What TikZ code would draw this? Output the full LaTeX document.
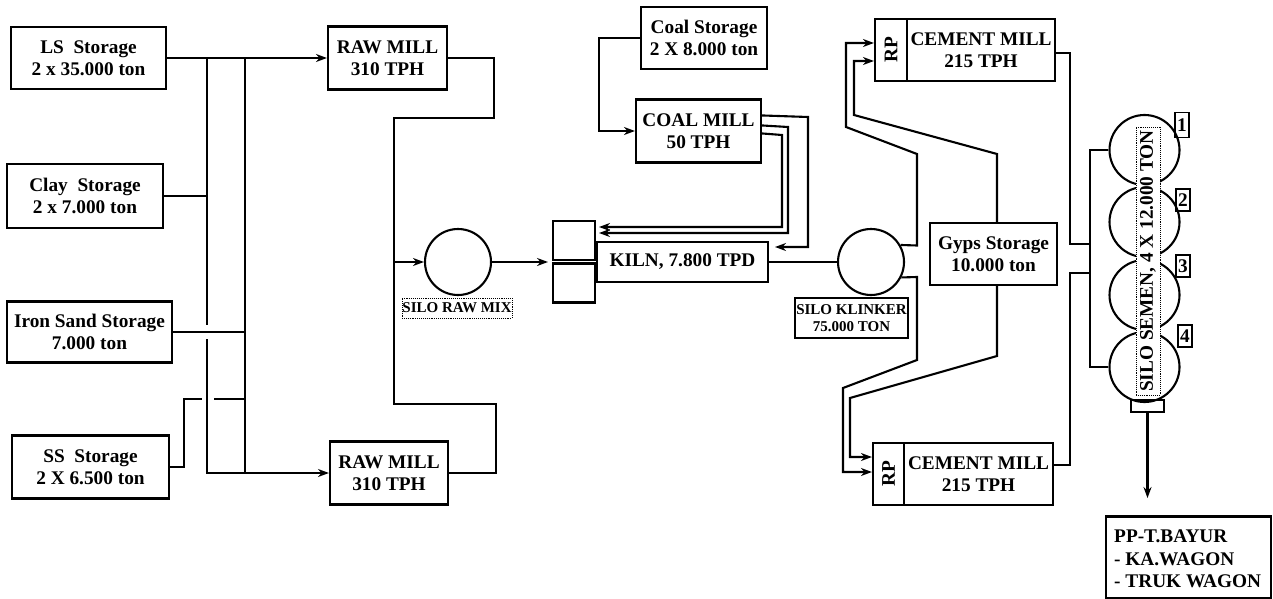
\documentclass[tikz,border=0pt]{standalone}
\usepackage{fontspec}
\setmainfont{Liberation Serif}
\usetikzlibrary{arrows.meta}
\tikzset{
  conn/.style={draw, line width=2.1pt},
  arr/.style={conn, -{Stealth[length=11pt,width=8pt]}},
}
\begin{document}
\begin{tikzpicture}[x=1pt,y=-1pt,
  every node/.style={font=\fontsize{19.3}{22.5}\selectfont\bfseries, inner sep=0pt, align=center},
  box/.style={draw, rectangle, line width=2.1pt},
  smalltext/.style={font=\fontsize{15}{17.5}\selectfont\bfseries},
  silo/.style={draw, circle, line width=2.1pt},
  dotbox/.style={draw, densely dotted, line width=0.9pt},
]
\useasboundingbox (0,0) rectangle (1273,599);

% storages
\node[box, minimum width=155pt, minimum height=62pt] (ls) at (88.5,58) {LS~ Storage\\2 x 35.000 ton};
\node[box, minimum width=156pt, minimum height=64pt] (clay) at (85,196) {Clay~ Storage\\2 x 7.000 ton};
\node[box, minimum width=165pt, minimum height=61pt] (iron) at (89.5,332) {Iron Sand Storage\\7.000 ton};
\node[box, minimum width=157pt, minimum height=63pt] (ss) at (90.5,467) {SS~ Storage\\2 X 6.500 ton};

% raw mills
\node[box, minimum width=119pt, minimum height=63pt] (rm1) at (387.5,58) {RAW MILL\\310 TPH};
\node[box, minimum width=118pt, minimum height=63pt] (rm2) at (389,473) {RAW MILL\\310 TPH};

% silo raw mix
\node[silo, minimum size=66pt] (srm) at (458,262) {};
\node[dotbox, smalltext, minimum width=110pt, minimum height=20pt] (srmlab) at (457,308) {SILO RAW MIX};

% kiln
\node[box, minimum width=42pt, minimum height=39pt] (kb1) at (574,240.5) {};
\node[box, minimum width=42pt, minimum height=39pt] (kb2) at (574,283) {};
\node[box, minimum width=171pt, minimum height=40pt] (kiln) at (682.5,262) {KILN, 7.800 TPD};

% coal
\node[box, minimum width=126pt, minimum height=62pt] (coals) at (704,38) {Coal Storage\\2 X 8.000 ton};
\node[box, minimum width=125pt, minimum height=63pt] (coalm) at (698.5,131) {COAL MILL\\50 TPH};

% silo klinker
\node[silo, minimum size=66pt] (sk) at (871,262) {};
\node[box, smalltext, minimum width=113pt, minimum height=40pt] (sklab) at (851.5,318) {SILO KLINKER\\75.000 TON};

% cement mills
\node[box, minimum width=32pt, minimum height=62pt] (rp1) at (891,50) {\rotatebox{90}{RP}};
\node[box, minimum width=148pt, minimum height=62pt] (cm1) at (981,50) {CEMENT MILL\\215 TPH};
\node[box, minimum width=31pt, minimum height=62pt] (rp2) at (888.5,474) {\rotatebox{90}{RP}};
\node[box, minimum width=149pt, minimum height=62pt] (cm2) at (978.5,474) {CEMENT MILL\\215 TPH};

% gyps
\node[box, minimum width=127pt, minimum height=62pt] (gyps) at (993.5,254) {Gyps Storage\\10.000 ton};

% silo semen
\node[silo, minimum size=70pt] (s1) at (1144.5,150) {};
\node[silo, minimum size=70pt] (s2) at (1144.5,222) {};
\node[silo, minimum size=70pt] (s3) at (1144.5,295) {};
\node[silo, minimum size=70pt] (s4) at (1144.5,367) {};
\node[dotbox, fill=white, minimum width=24pt, minimum height=268pt] (semlab) at (1148,261) {\rotatebox{90}{SILO SEMEN, 4 X 12.000 TON}};
\node[box, line width=1.5pt, minimum width=14pt, minimum height=25pt] (n1) at (1182,125) {1};
\node[box, line width=1.5pt, minimum width=14pt, minimum height=22pt] (n2) at (1183,200) {2};
\node[box, line width=1.5pt, minimum width=14pt, minimum height=22pt] (n3) at (1183,266) {3};
\node[box, line width=1.5pt, minimum width=14pt, minimum height=22pt] (n4) at (1185,336) {4};
\node[box, minimum width=33pt, minimum height=12pt] (bot) at (1147.5,406) {};

% distribution
\node[box, minimum width=165pt, minimum height=82pt] (pp) at (1188.5,557.5) {};
\node[anchor=north west, align=left] (pptext) at (1114,530) {PP-T.BAYUR\\- KA.WAGON\\- TRUK WAGON};

% ---- connectors: raw material bus
\path[arr] (ls) -- (rm1);
\path[conn] (207,58) -- (207,325);
\path[arr] (207,339) -- (207,473) -- (rm2.west);
\path[conn] (245,58) -- (245,473);
\path[conn] (clay.east) -- (207,196);
\path[conn] (iron.east) -- (245,332);
\path[conn] (ss.east) -- (184,467) -- (184,399) -- (202,399);
\path[conn] (214,399) -- (245,399);

% raw mill outputs
\path[conn] (rm1.east) -- (494,58) -- (494,118) -- (394,118) -- (394,404) -- (496,404) -- (496,473) -- (rm2.east);
\path[arr] (394,262) -- (srm.west);
\path[arr] (srm.east) -- (548,262);

% coal
\path[arr] (coals.west) -- (599,38) -- (599,131) -- (coalm.west);
\path[arr] ([yshift=-17pt]coalm.north east) -- (808,117) -- (808,247) -- (775,247);
\path[arr] ([yshift=-27pt]coalm.north east) -- (788,127) -- (788,233) -- (599,233);
\path[arr] ([yshift=-35pt]coalm.north east) -- (782,135) -- (782,227) -- (599,227);

% kiln to klinker
\path[conn] (kiln) -- (sk);

% klinker & gyps to cement mills
\path[arr] (sk.30) -- (917,245.5) -- (917,154) -- (846,127) -- (846,43) -- (rp1.west |- 846,43);
\path[arr] ([xshift=3.5pt]gyps.north) -- (997,154) -- (854,115) -- (854,61) -- (rp1.west |- 854,61);
\path[arr] (sk.-27) -- (917,277) -- (917,360) -- (843,388) -- (843,472) -- (rp2.west |- 843,472);
\path[arr] ([xshift=3.5pt]gyps.south) -- (997,356) -- (850,398) -- (850,457) -- (rp2.west |- 850,457);

% cement mills to silos
\path[conn] ([yshift=-3pt]cm1.east) -- (1070,53) -- (1070,244) -- (1090,244);
\path[conn] ([yshift=9pt]cm2.east) -- (1070,465) -- (1070,273) -- (1090,273);
\path[conn] (s1.west) -- (1090,150) -- (1090,367) -- (s4.west);

% dispatch
\path[arr] (bot.south) -- ++(0,85);
\end{tikzpicture}
\end{document}
